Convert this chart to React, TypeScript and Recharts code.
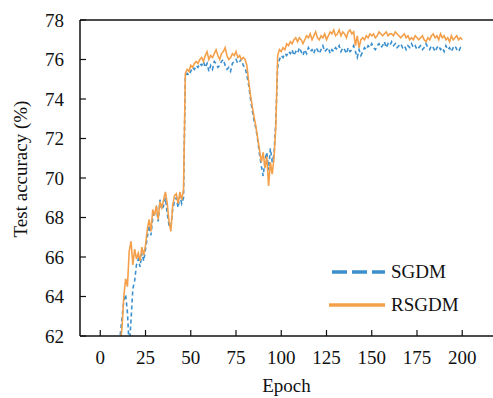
import React from 'react';
import { LineChart, Line, XAxis, YAxis, ReferenceLine, Legend } from 'recharts';

const sgdm = [
  47.2, 52.0, 54.6, 56.1, 57.2, 58.0, 59.1, 59.8, 60.5, 61.0,
  62.0, 62.9, 63.8, 64.1, 63.2, 61.4, 62.8, 64.4, 64.8, 65.6,
  65.9, 65.5, 66.2, 65.8, 66.4, 67.0, 67.6, 67.1, 68.0, 68.3,
  68.5, 67.8, 68.9, 68.4, 68.6, 69.0, 68.2, 67.6, 67.5, 68.4,
  68.8, 69.0, 68.5, 69.1, 68.7, 69.0, 75.1, 75.3, 75.2, 75.4,
  75.6, 75.5, 75.7, 75.6, 75.8, 75.7, 75.9, 75.6, 75.8, 75.4,
  75.7, 75.5, 75.9, 75.8, 75.6, 75.7, 75.9, 76.0, 75.7, 75.5,
  75.6, 75.4, 75.8, 75.9, 76.0, 75.8, 75.9, 76.0, 75.7, 75.6,
  75.2, 74.7, 74.0, 73.4, 72.9, 72.5, 71.9, 71.2, 70.6, 70.1,
  70.9, 71.3, 70.4, 71.5, 70.8, 71.2, 72.9, 75.6, 76.0, 76.2,
  76.1, 76.3, 76.2, 76.4, 76.3, 76.5, 76.2, 76.4, 76.3, 76.6,
  76.4, 76.2, 76.5, 76.3, 76.6, 76.4, 76.5, 76.3, 76.6, 76.5,
  76.3, 76.5, 76.7, 76.4, 76.5, 76.6, 76.3, 76.5, 76.4, 76.6,
  76.5, 76.7, 76.4, 76.6, 76.5, 76.3, 76.6, 76.4, 76.5, 76.7,
  76.4, 76.1, 76.5, 76.2, 76.4, 76.6, 76.5, 76.7, 76.6, 76.8,
  76.6, 76.5, 76.7, 76.8, 76.6, 76.7, 76.9, 76.6, 76.8, 76.7,
  76.9, 76.7, 76.8, 76.6, 76.7, 76.8, 76.6, 76.7, 76.5, 76.7,
  76.6, 76.8, 76.6, 76.7, 76.5, 76.6, 76.7, 76.5, 76.6, 76.8,
  76.6, 76.5, 76.7, 76.6, 76.4, 76.6, 76.7, 76.5, 76.6, 76.4,
  76.7, 76.5, 76.6, 76.4, 76.6, 76.7, 76.5, 76.4, 76.6, 76.5,
];

const rsgdm = [
  48.5, 53.2, 55.1, 56.8, 57.5, 58.9, 59.4, 60.1, 60.8, 61.3,
  61.6, 62.4, 64.0, 64.9, 64.5, 66.3, 66.8, 65.6, 66.4, 65.9,
  66.2, 65.8, 66.5, 66.1, 66.6, 67.4, 67.9, 67.3, 68.4, 68.1,
  68.6, 67.9, 68.8, 68.5, 68.9, 69.3, 68.7, 67.8, 67.3, 68.6,
  69.1, 69.2, 68.7, 69.3, 68.9, 69.4, 75.3, 75.5, 75.4, 75.7,
  75.6, 75.8, 75.9, 75.8, 76.0, 76.1, 75.9, 76.2, 76.4, 76.0,
  76.2, 76.1, 76.3, 76.5, 76.2, 76.0, 76.3, 76.4, 76.6, 76.2,
  76.0, 76.1, 76.3, 76.2, 76.4, 76.1, 76.2, 76.0, 76.1, 76.0,
  75.7, 74.9, 74.2, 73.6, 73.1, 72.6, 72.0, 71.4, 70.8, 71.3,
  70.5, 71.1, 69.6, 70.8, 70.2, 71.0, 72.6, 76.2, 76.5, 76.4,
  76.6, 76.5, 76.8, 76.7, 76.9, 76.8, 77.0, 77.1, 76.9, 77.1,
  77.0, 76.8, 77.0, 77.2, 77.1, 77.3, 77.0, 77.2, 77.4, 77.1,
  77.0, 77.2, 77.1, 77.3, 77.0, 77.2, 77.4, 77.3, 77.5, 77.2,
  77.3, 77.5, 77.2, 77.4, 77.3, 77.1, 77.4, 77.5, 77.3, 77.4,
  76.7, 77.2, 76.6, 77.0, 77.1, 77.0, 77.2, 77.1, 77.3, 77.2,
  77.3, 77.1, 77.2, 77.4, 77.3, 77.2, 77.3, 77.4, 77.2, 77.3,
  77.3, 77.2, 77.4, 77.3, 77.2, 77.1, 77.2, 77.3, 77.1, 77.2,
  77.0, 77.1, 77.0, 77.2, 77.1, 77.0, 77.1, 77.2, 77.0, 76.9,
  77.1, 77.0, 77.2, 77.3, 77.1, 77.2, 77.0, 77.3, 77.1, 77.2,
  77.0, 77.1, 76.9, 77.2, 77.0, 77.1, 77.2, 77.0, 77.1, 77.0,
];

const epochs = sgdm.map((_, i) => i + 1);
const xTicks = [0, 25, 50, 75, 100, 125, 150, 175, 200];
const yTicks = [62, 64, 66, 68, 70, 72, 74, 76, 78];

const data = epochs.map((epoch, i) => ({ epoch, sgdm: sgdm[i], rsgdm: rsgdm[i] }));

const FONT = '"Liberation Serif", "Times New Roman", serif';
const BLUE = '#3a8fcc';
const ORANGE = '#f4a04b';

function LegendBox() {
    const row: React.CSSProperties = { display: 'flex', alignItems: 'center', height: 33 };
    const txt: React.CSSProperties = { fontFamily: FONT, fontSize: 19, color: '#111', marginLeft: 6, lineHeight: '20px' };
    return (
        <div>
            <div style={row}>
                <svg width={56} height={8}>
                    <line x1={3} y1={4} x2={56} y2={4} stroke={BLUE} strokeWidth={3.5} strokeDasharray="15 5" />
                </svg>
                <span style={txt}>SGDM</span>
            </div>
            <div style={row}>
                <svg width={56} height={8}>
                    <line x1={0} y1={4} x2={56} y2={4} stroke={ORANGE} strokeWidth={3.5} />
                </svg>
                <span style={txt}>RSGDM</span>
            </div>
        </div>
    );
}

export default function App() {
    const tickStyle = { fontFamily: FONT, fontSize: 19, fill: '#111' };
    return (
        <div style={{ position: 'absolute', left: 0, top: 0, width: 493, height: 398, background: '#fff' }}>
            <LineChart width={493} height={398} data={data} margin={{ top: 20, right: 0, left: 0, bottom: 22 }}>
                <XAxis
                    dataKey="epoch" type="number" domain={[-11.2, 217]} ticks={xTicks}
                    allowDataOverflow height={40}
                    tick={tickStyle} tickSize={-6} tickMargin={21}
                    axisLine={{ stroke: '#111', strokeWidth: 1.5 }} tickLine={{ stroke: '#111', strokeWidth: 1.2 }}
                    label={{ value: 'Epoch', position: 'insideBottom', offset: -16, style: { fontFamily: FONT, fontSize: 19, fill: '#111' } }}
                />
                <YAxis
                    type="number" domain={[62, 78]} ticks={yTicks} allowDataOverflow width={80}
                    tick={tickStyle} tickSize={-6} tickMargin={22}
                    axisLine={{ stroke: '#111', strokeWidth: 1.5 }} tickLine={{ stroke: '#111', strokeWidth: 1.2 }}
                    label={{ value: 'Test accuracy (%)', angle: -90, position: 'insideLeft', offset: 20, dy: -9, style: { textAnchor: 'middle', fontFamily: FONT, fontSize: 19, fill: '#111' } }}
                />
                <ReferenceLine y={78} stroke="#111" strokeWidth={1.5} />
                <Line dataKey="sgdm" stroke={BLUE} strokeWidth={1.6} strokeDasharray="4 3" dot={false} isAnimationActive={false} />
                <Line dataKey="rsgdm" stroke={ORANGE} strokeWidth={1.6} dot={false} isAnimationActive={false} />
                <Legend
                    layout="vertical" align="center" verticalAlign="middle"
                    content={<LegendBox />}
                    wrapperStyle={{ position: 'absolute', left: 329, top: 255, width: 'auto', height: 'auto' }}
                />
            </LineChart>
        </div>
    );
}
